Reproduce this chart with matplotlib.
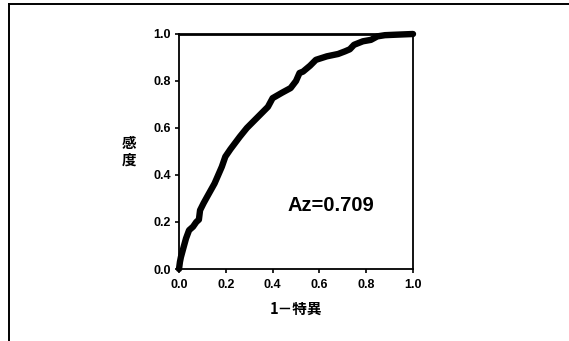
import matplotlib
matplotlib.use("Agg")
import matplotlib.pyplot as plt
from matplotlib.lines import Line2D

# ROC curve
fpr = [0.0, 0.004, 0.008, 0.02, 0.03, 0.043, 0.06, 0.074, 0.085, 0.09, 0.105,
       0.12, 0.152, 0.183, 0.198, 0.22, 0.26, 0.29, 0.32, 0.353, 0.38, 0.40,
       0.44, 0.477, 0.50, 0.515, 0.53, 0.56, 0.585, 0.632, 0.68, 0.709, 0.73,
       0.748, 0.786, 0.82, 0.848, 0.88, 0.926, 1.0]
tpr = [0.0, 0.03, 0.05, 0.094, 0.13, 0.165, 0.18, 0.2, 0.21, 0.25, 0.28,
       0.307, 0.364, 0.435, 0.478, 0.51, 0.563, 0.6, 0.63, 0.663, 0.69, 0.727,
       0.75, 0.77, 0.80, 0.834, 0.84, 0.865, 0.89, 0.905, 0.915, 0.926, 0.935,
       0.954, 0.969, 0.975, 0.99, 0.995, 0.997, 1.0]
ticks = [0.0, 0.2, 0.4, 0.6, 0.8, 1.0]
tick_labels = ["0.0", "0.2", "0.4", "0.6", "0.8", "1.0"]
az_label = "Az=0.709"
x_label = "1－特異"
y_label = "感\n度"

plt.rcParams['font.family'] = ['Liberation Sans', 'Noto Sans CJK JP', 'DejaVu Sans']

fig = plt.figure(figsize=(5.69, 3.41), dpi=100)
ax = fig.add_axes([179 / 569, 1 - 269 / 341, 234 / 569, 235 / 341])

ax.plot(fpr, tpr, color='black', linewidth=4.6, solid_capstyle='round',
        solid_joinstyle='round', clip_on=False)

ax.set_xlim(0, 1)
ax.set_ylim(0, 1)
ax.set_xticks(ticks)
ax.set_yticks(ticks)
ax.set_xticklabels(tick_labels, fontsize=9, fontweight='bold')
ax.set_yticklabels(tick_labels, fontsize=9, fontweight='bold')
ax.tick_params(direction='out', length=3, width=1.2)
ax.tick_params(axis='x', pad=4.5)
ax.tick_params(axis='y', pad=3)
for side in ['left', 'right', 'bottom']:
    ax.spines[side].set_linewidth(1.3)
ax.spines['top'].set_linewidth(2.0)

ax.text(0.65, 0.27, az_label, transform=ax.transAxes, ha='center', va='center',
        fontsize=14.5, fontweight='bold')
ax.text(0.5, -0.17, x_label, transform=ax.transAxes, ha='center', va='center',
        fontsize=10.5, fontweight='bold', family=['Noto Sans CJK JP', 'DejaVu Sans'])
ax.text(-0.215, 0.5, y_label, transform=ax.transAxes, ha='center', va='center',
        fontsize=10.5, fontweight='bold', linespacing=1.0,
        family=['Noto Sans CJK JP', 'DejaVu Sans'])

# outer frame of the scanned figure (top and left only)
fx = 9 / 569
fy = 1 - 4 / 341
fig.add_artist(Line2D([fx, fx], [0, fy], color='black', linewidth=1.4,
                      transform=fig.transFigure))
fig.add_artist(Line2D([fx, 1], [fy, fy], color='black', linewidth=1.4,
                      transform=fig.transFigure))

fig.savefig('out.png', dpi=100)
